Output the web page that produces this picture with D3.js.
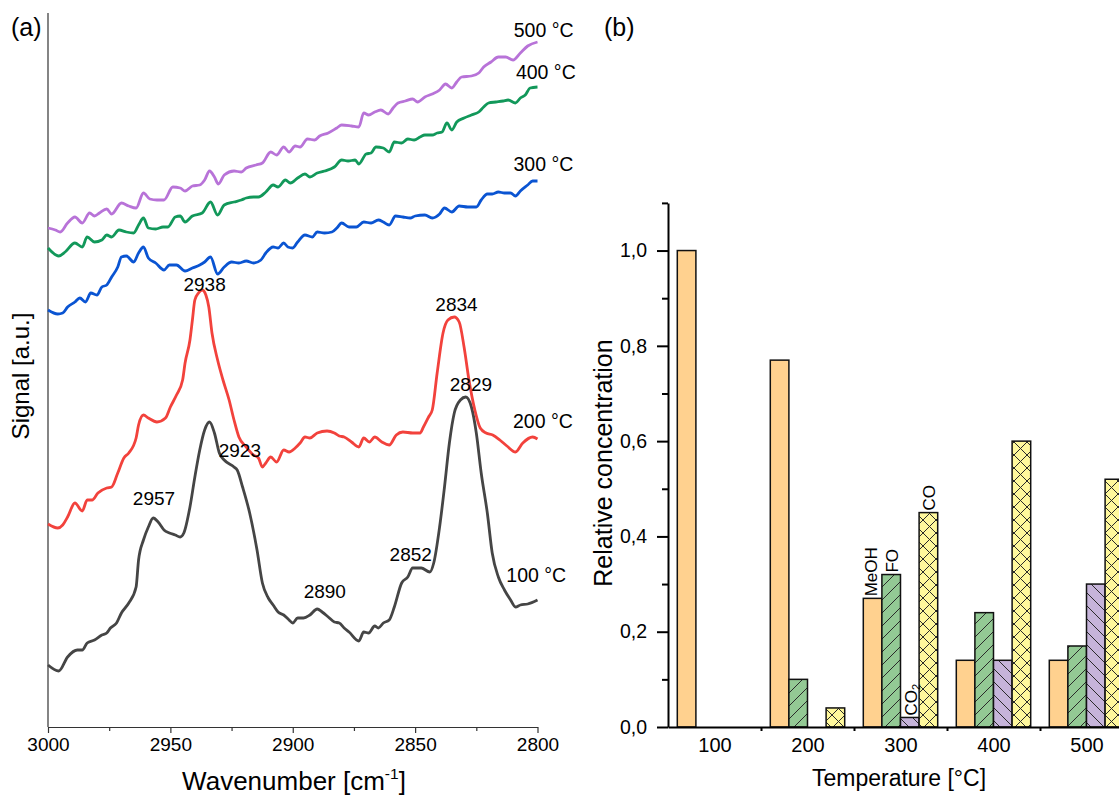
<!DOCTYPE html>
<html>
<head>
<meta charset="utf-8">
<script src="https://cdn.jsdelivr.net/npm/d3@7"></script>
<style>
  body { margin: 0; background: #fff; }
  svg { display: block; font-family: "Liberation Sans", Arial, Helvetica, sans-serif; }
</style>
</head>
<body>
<script>
// ---------------- Panel (a) data: [wavenumber cm-1, signal a.u.] ----------------
const series100 = [[3000,0.62],[2995.6,0.56],[2992,0.70],[2988,0.77],[2986,0.77],[2984,0.84],[2981,0.87],[2978,0.92],[2976,0.94],[2974.5,0.99],[2972,1.04],[2970,1.14],[2967,1.24],[2964,1.40],[2963,1.67],[2961,1.87],[2959,2.00],[2957,2.09],[2955,2.05],[2952.6,1.97],[2950.4,1.94],[2948,1.92],[2946,1.90],[2944.5,1.94],[2942,2.20],[2940,2.50],[2938,2.77],[2936,2.97],[2934,3.05],[2932,2.94],[2930,2.74],[2928,2.67],[2924,2.60],[2922.7,2.57],[2920.5,2.40],[2917.6,2.14],[2914.6,1.77],[2912.4,1.44],[2910,1.29],[2908,1.22],[2906,1.15],[2903.7,1.12],[2901.5,1.07],[2900,1.04],[2898,1.09],[2895.6,1.09],[2893,1.12],[2890,1.18],[2888,1.15],[2885.5,1.10],[2883,1.05],[2881,1.04],[2879,0.99],[2877,0.95],[2873,0.86],[2871,0.95],[2869,0.94],[2866.5,1.01],[2865,0.99],[2863,1.04],[2860.6,1.07],[2858.5,1.20],[2855.5,1.44],[2853,1.50],[2851,1.59],[2847.5,1.59],[2844,1.55],[2842.4,1.64],[2840,2.00],[2838,2.40],[2836,2.84],[2834,3.14],[2831.5,3.27],[2829.3,3.30],[2827,3.20],[2825,2.94],[2823,2.54],[2820.5,2.14],[2818.5,1.74],[2816,1.50],[2813.5,1.37],[2811,1.27],[2809,1.20],[2807,1.22],[2804,1.23],[2800,1.27]];

const series200 = [[3000,2.03],[2996,1.99],[2994,2.02],[2992,2.10],[2989,2.24],[2986,2.16],[2984,2.27],[2982,2.27],[2979.6,2.34],[2976,2.39],[2974,2.40],[2971.5,2.54],[2969,2.69],[2967,2.74],[2964,2.89],[2963,3.02],[2961,3.12],[2959,3.09],[2955.5,3.05],[2952,3.09],[2950,3.20],[2947.5,3.32],[2945,3.47],[2944,3.64],[2942,3.87],[2941,4.07],[2940,4.27],[2938.5,4.34],[2937,4.37],[2935.5,4.32],[2934.3,4.20],[2933,3.94],[2930.7,3.67],[2928.5,3.47],[2926,3.27],[2924,3.07],[2922,2.90],[2919,2.80],[2916,2.72],[2914,2.69],[2912.4,2.60],[2911,2.64],[2909,2.70],[2906.6,2.65],[2903.7,2.77],[2901.5,2.75],[2899,2.79],[2897,2.84],[2895,2.90],[2893,2.89],[2890,2.94],[2886,2.96],[2883,2.94],[2881,2.91],[2879,2.90],[2876,2.85],[2873,2.80],[2871,2.89],[2868.7,2.85],[2866.5,2.90],[2863.6,2.85],[2860.6,2.82],[2857.7,2.92],[2855,2.95],[2851,2.94],[2848,2.94],[2846.6,3.00],[2844.5,3.10],[2843,3.17],[2841,3.54],[2838.6,3.94],[2836.6,4.07],[2834,4.10],[2832,4.05],[2830,3.80],[2828,3.47],[2825.6,3.17],[2823.4,2.99],[2821,2.94],[2818.3,2.92],[2815.4,2.87],[2812.5,2.81],[2809,2.75],[2806,2.84],[2802,2.90],[2800,2.88]];

const series300 = [[3000,4.17],[2996,4.13],[2994,4.14],[2992,4.20],[2989,4.25],[2987,4.29],[2984.7,4.25],[2982.5,4.34],[2980,4.32],[2978,4.40],[2976,4.42],[2974,4.50],[2971.5,4.60],[2970,4.70],[2968,4.71],[2965,4.65],[2963,4.74],[2961,4.80],[2959,4.69],[2956,4.64],[2952.6,4.57],[2950.4,4.62],[2947.5,4.62],[2944,4.56],[2941,4.59],[2938,4.62],[2936,4.65],[2933.6,4.70],[2930.7,4.53],[2928,4.60],[2925,4.65],[2922,4.64],[2919,4.66],[2916,4.64],[2913,4.67],[2911,4.74],[2908,4.80],[2906,4.79],[2903.7,4.84],[2902,4.80],[2900,4.79],[2898,4.85],[2895,4.92],[2892,4.90],[2890,4.95],[2887,4.94],[2884,4.95],[2882,4.99],[2880,5.04],[2877,5.00],[2874,5.00],[2871,5.05],[2868,5.04],[2865,5.07],[2863,5.05],[2860.6,5.02],[2858,5.11],[2855,5.10],[2852,5.09],[2850,5.11],[2846,5.12],[2843,5.09],[2840,5.13],[2838,5.19],[2835,5.15],[2832,5.21],[2828.5,5.20],[2825,5.20],[2823,5.27],[2820.5,5.33],[2818.5,5.33],[2816,5.35],[2813.5,5.34],[2811,5.34],[2809,5.31],[2807,5.36],[2804,5.42],[2802,5.46],[2800,5.46]];

const series400 = [[3000,4.79],[2995.6,4.71],[2993,4.75],[2989,4.84],[2986,4.80],[2984,4.90],[2981,4.85],[2978,4.87],[2976,4.92],[2974,4.90],[2971,4.97],[2968,4.95],[2965,4.94],[2963,5.02],[2961,5.09],[2959,4.99],[2956,4.98],[2953,5.00],[2951,5.00],[2948,5.10],[2946,5.11],[2944,5.05],[2941,5.11],[2937,5.14],[2933.6,5.25],[2930.7,5.12],[2928,5.22],[2924,5.25],[2921,5.27],[2919,5.29],[2916,5.30],[2914,5.30],[2911,5.35],[2908,5.42],[2906,5.40],[2903,5.47],[2901,5.44],[2898,5.49],[2895,5.53],[2893,5.50],[2890,5.54],[2887,5.56],[2883,5.60],[2880,5.67],[2877.4,5.66],[2874.5,5.67],[2873,5.63],[2870,5.73],[2868,5.74],[2866,5.80],[2863,5.79],[2860.6,5.75],[2858.5,5.85],[2855.5,5.84],[2853,5.88],[2850.4,5.87],[2848,5.90],[2846,5.92],[2843,5.92],[2841,5.94],[2839,5.95],[2837,6.04],[2835,5.97],[2833,6.05],[2830,6.09],[2827,6.12],[2824,6.15],[2822,6.20],[2820,6.24],[2817,6.25],[2814,6.26],[2812,6.27],[2809,6.24],[2807,6.29],[2805,6.32],[2803,6.39],[2800,6.40]];

const series500 = [[3000,4.99],[2997,4.97],[2995,4.95],[2992,5.04],[2989,5.10],[2986,5.04],[2983,5.14],[2981,5.11],[2979,5.14],[2976,5.18],[2974,5.13],[2970,5.24],[2967,5.21],[2964,5.19],[2961,5.34],[2958.4,5.28],[2955.5,5.27],[2952.6,5.27],[2949,5.40],[2946,5.39],[2944,5.36],[2941,5.41],[2938,5.42],[2936,5.47],[2934,5.56],[2932,5.50],[2930.4,5.43],[2928,5.52],[2924,5.56],[2921,5.55],[2919,5.59],[2915,5.62],[2912.4,5.64],[2909,5.75],[2906.6,5.72],[2903.7,5.80],[2901.5,5.75],[2899,5.81],[2897,5.80],[2894,5.88],[2891,5.87],[2889,5.91],[2885.5,5.94],[2882,5.99],[2880,6.02],[2876,6.01],[2873,6.00],[2871,6.14],[2869,6.12],[2866.5,6.15],[2864,6.17],[2861,6.13],[2859,6.19],[2857,6.24],[2854,6.26],[2851,6.28],[2849,6.25],[2846,6.30],[2843,6.33],[2840,6.37],[2837.6,6.43],[2835,6.39],[2833,6.45],[2831,6.50],[2827,6.51],[2824,6.54],[2822,6.60],[2819,6.65],[2816,6.70],[2813,6.70],[2810,6.67],[2807,6.74],[2804,6.81],[2800,6.85]];

const spectraTemps = ["100 °C","200 °C","300 °C","400 °C","500 °C"];
const spectraColors = ["#454545","#f2423c","#0a54d2","#12985a","#b873d8"];
const spectraLabelWn = [2800.5,2797.8,2797.6,2796.6,2797.5];
const spectraLabelSig = [1.52,3.06,5.63,6.55,6.965];

const peakLabels = ["2938","2834","2957","2923","2890","2852","2829"];
const peakWn = [2936,2833.1,2956.7,2921.6,2886.9,2851.8,2827.2];
const peakSig = [4.43,4.23,2.29,2.77,1.36,1.73,3.43];

const wnMajor = [3000,2950,2900,2850,2800];
const wnMinor = [2975,2925,2875,2825];

// ---------------- Panel (b) data ----------------
const temperatures = [100,200,300,400,500];
const compounds = ["MeOH","FO","CO2","CO"];
const meoh = [1.00,0.77,0.27,0.14,0.14];
const fo   = [0.00,0.10,0.32,0.24,0.17];
const co2  = [0.00,0.00,0.02,0.14,0.30];
const co   = [0.00,0.04,0.45,0.60,0.52];
const concTicks = [0,0.2,0.4,0.6,0.8,1.0];
const concMinor = [0.1,0.3,0.5,0.7,0.9,1.1];
const tempBoundaries = [150,250,350,450,550];

const barFills = ["#ffd18f","#93c994","#c6b4da","#fff89c"];
const barPatterns = [null,"fwd","back","cross"];

// ---------------- Drawing ----------------
const W = 1119, H = 795;
const FONT = '"Liberation Sans", Arial, Helvetica, sans-serif';
const svg = d3.select("body").append("svg").attr("width", W).attr("height", H);

// Hatch patterns
const defs = svg.append("defs");
function makePattern(id, bg, paths) {
  const p = defs.append("pattern").attr("id", id).attr("patternUnits", "userSpaceOnUse")
    .attr("width", 13).attr("height", 13);
  p.append("rect").attr("width", 13).attr("height", 13).attr("fill", bg);
  p.append("path").attr("d", paths).attr("stroke", "#2a2a2a").attr("stroke-width", 1).attr("fill", "none");
}
const fwd = "M-1,14 L14,-1 M-4,4 L4,-4 M9,17 L17,9";
const back = "M-1,-1 L14,14 M-4,9 L4,17 M9,-4 L17,4";
makePattern("pat-fwd", barFills[1], fwd);
makePattern("pat-back", barFills[2], back);
makePattern("pat-cross", barFills[3], fwd + " " + back);

// ===== Panel (a) =====
const xA = d3.scaleLinear().domain([3000, 2800]).range([48, 537.5]);
const yA = d3.scaleLinear().domain([0, 7.14]).range([727, 13]);
const gA = svg.append("g");

const axA = gA.append("g").attr("transform", `translate(0,${yA(0)})`)
  .call(d3.axisBottom(xA).tickValues(wnMajor).tickSize(6).tickPadding(5).tickSizeOuter(0).tickFormat(d3.format("d")));
axA.select(".domain").attr("stroke", "#333").attr("stroke-width", 1.2);
axA.selectAll(".tick line").attr("stroke", "#333").attr("stroke-width", 1.2);
axA.selectAll(".tick text").attr("font-family", FONT).attr("font-size", 19).attr("fill", "#000");

const axAm = gA.append("g").attr("transform", `translate(0,${yA(0)})`)
  .call(d3.axisBottom(xA).tickValues(wnMinor).tickSize(4).tickFormat(""));
axAm.select(".domain").remove();
axAm.selectAll(".tick line").attr("stroke", "#333").attr("stroke-width", 1.2);

gA.append("line").attr("x1", xA(3000)).attr("x2", xA(3000)).attr("y1", yA(0)).attr("y2", yA(7.14))
  .attr("stroke", "#333").attr("stroke-width", 1.2);

const lineA = d3.line().x(d => xA(d[0])).y(d => yA(d[1])).curve(d3.curveMonotoneX);
const allSeries = [series100, series200, series300, series400, series500];
allSeries.forEach((s, i) => {
  gA.append("path").datum(s).attr("d", lineA).attr("fill", "none")
    .attr("stroke", spectraColors[i]).attr("stroke-width", 2.8).attr("stroke-linejoin", "round");
});

spectraTemps.forEach((t, i) => {
  gA.append("text").attr("x", xA(spectraLabelWn[i])).attr("y", yA(spectraLabelSig[i]))
    .attr("dy", "0.35em").attr("text-anchor", "middle").attr("font-size", 19.5).text(t);
});
peakLabels.forEach((t, i) => {
  gA.append("text").attr("x", xA(peakWn[i])).attr("y", yA(peakSig[i]))
    .attr("dy", "0.35em").attr("text-anchor", "middle").attr("font-size", 19).text(t);
});

gA.append("text").attr("x", 11).attr("y", 27).attr("dy", "0.35em").attr("font-size", 25).text("(a)");

const wt = gA.append("text").attr("x", 294).attr("y", 781).attr("dy", "0.35em").attr("text-anchor", "middle")
  .attr("font-size", 26);
wt.append("tspan").text("Wavenumber [cm");
wt.append("tspan").attr("font-size", 15.5).attr("dy", "-0.7em").text("-1");
wt.append("tspan").attr("dy", "0.42em").text("]");

gA.append("text").attr("transform", "translate(29,376) rotate(-90)").attr("text-anchor", "middle")
  .attr("font-size", 24).text("Signal [a.u.]");

// ===== Panel (b) =====
const xB = d3.scaleLinear().domain([50, 550]).range([668, 1133]);
const yB = d3.scaleLinear().domain([0, 1.1]).range([727, 202.9]);
const gB = svg.append("g");
const bw = xB(120) - xB(100);
const seriesVals = [meoh, fo, co2, co];

seriesVals.forEach((vals, si) => {
  temperatures.forEach((t, ti) => {
    const v = vals[ti];
    if (v <= 0) return;
    const x0 = xB(t - 40 + 20 * si);
    gB.append("rect").attr("x", x0).attr("y", yB(v)).attr("width", bw).attr("height", yB(0) - yB(v))
      .attr("fill", barPatterns[si] ? `url(#pat-${barPatterns[si]})` : barFills[si])
      .attr("stroke", "#111").attr("stroke-width", 1.5);
  });
});

// compound labels at 300 °C group
const labelGroup = 2;
compounds.forEach((c, si) => {
  const t = temperatures[labelGroup];
  const xc = xB(t - 40 + 20 * si) + bw / 2 + (si === 0 ? 4 : 7);
  const yt = yB(seriesVals[si][labelGroup]) - 2;
  const tx = gB.append("text").attr("transform", `translate(${xc},${yt}) rotate(-90)`)
    .attr("text-anchor", "start").attr("font-size", 17);
  if (c === "CO2") {
    tx.append("tspan").text("CO");
    tx.append("tspan").attr("font-size", 11).attr("dy", "0.3em").text("2");
  } else {
    tx.text(c);
  }
});

// axes
const fmtComma = d => d3.format(".1f")(d).replace(".", ",");
const ayB = gB.append("g").attr("transform", `translate(${xB(50)},0)`)
  .call(d3.axisLeft(yB).tickValues(concTicks).tickSize(11).tickPadding(10).tickSizeOuter(0).tickFormat(fmtComma));
ayB.select(".domain").attr("stroke", "#000").attr("stroke-width", 2);
ayB.selectAll(".tick line").attr("stroke", "#000").attr("stroke-width", 2);
ayB.selectAll(".tick text").attr("font-family", FONT).attr("font-size", 19.5).attr("fill", "#000");
const ayBm = gB.append("g").attr("transform", `translate(${xB(50)},0)`)
  .call(d3.axisLeft(yB).tickValues(concMinor).tickSize(6).tickFormat(""));
ayBm.select(".domain").remove();
ayBm.selectAll(".tick line").attr("stroke", "#000").attr("stroke-width", 2);

const axB = gB.append("g").attr("transform", `translate(0,${yB(0)})`)
  .call(d3.axisBottom(xB).tickValues(tempBoundaries).tickSize(4).tickFormat("").tickSizeOuter(0));
axB.select(".domain").attr("stroke", "#000").attr("stroke-width", 2);
axB.selectAll(".tick line").attr("stroke", "#000").attr("stroke-width", 2);
const axBl = gB.append("g").attr("transform", `translate(0,${yB(0)})`)
  .call(d3.axisBottom(xB).tickValues(temperatures).tickSize(0).tickPadding(11).tickFormat(d3.format("d")));
axBl.select(".domain").remove();
axBl.selectAll(".tick text").attr("font-family", FONT).attr("font-size", 20).attr("fill", "#000");

gB.append("text").attr("x", 604).attr("y", 27).attr("dy", "0.35em").attr("font-size", 25).text("(b)");
gB.append("text").attr("x", 899).attr("y", 778).attr("dy", "0.35em").attr("text-anchor", "middle")
  .attr("font-size", 23).text("Temperature [°C]");
gB.append("text").attr("transform", "translate(612,463) rotate(-90)").attr("text-anchor", "middle")
  .attr("font-size", 25).text("Relative concentration");

svg.selectAll("text").attr("font-family", FONT);
</script>
</body>
</html>
